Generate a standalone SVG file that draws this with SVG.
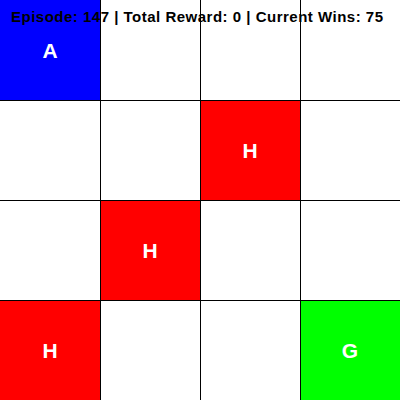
<svg xmlns="http://www.w3.org/2000/svg" width="400" height="400" viewBox="0 0 400 400">
<style>
.lbl{font-family:"Liberation Sans",Arial,sans-serif;font-weight:bold;font-size:21px;fill:#fff;text-anchor:middle}
.grid line{stroke:#000;stroke-width:1}
.title{font-family:"Liberation Sans",Arial,sans-serif;font-weight:bold;font-size:15px;fill:#000}
</style>
<rect x="0" y="0" width="400" height="400" fill="#fff"/>
<g id="cell-A"><rect x="0" y="0" width="100" height="100" fill="#0000ff"/><text class="lbl" x="50" y="58">A</text></g>
<g id="cell-H1"><rect x="200" y="100" width="100" height="100" fill="#ff0000"/><text class="lbl" x="250" y="158">H</text></g>
<g id="cell-H2"><rect x="100" y="200" width="100" height="100" fill="#ff0000"/><text class="lbl" x="150" y="258">H</text></g>
<g id="cell-H3"><rect x="0" y="300" width="100" height="100" fill="#ff0000"/><text class="lbl" x="50" y="358">H</text></g>
<g id="cell-G"><rect x="300" y="300" width="100" height="100" fill="#00ff00"/><text class="lbl" x="350" y="358">G</text></g>
<g class="grid">
<line x1="100.5" y1="0" x2="100.5" y2="400"/>
<line x1="200.5" y1="0" x2="200.5" y2="400"/>
<line x1="300.5" y1="0" x2="300.5" y2="400"/>
<line x1="0" y1="100.5" x2="400" y2="100.5"/>
<line x1="0" y1="200.5" x2="400" y2="200.5"/>
<line x1="0" y1="300.5" x2="400" y2="300.5"/>
</g>
<text class="title" x="11" y="22" textLength="372" lengthAdjust="spacing">Episode: 147 | Total Reward: 0 | Current Wins: 75</text>
</svg>
